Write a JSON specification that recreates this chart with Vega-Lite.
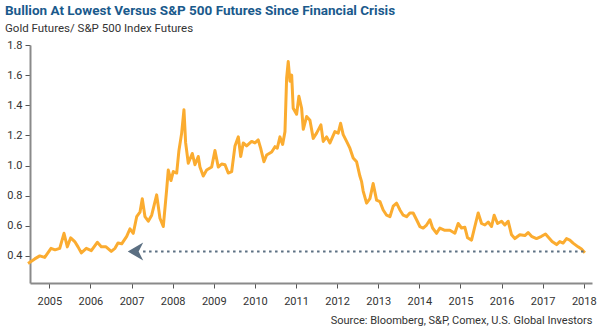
{
  "$schema": "https://vega.github.io/schema/vega-lite/v6.json",
  "width": 562,
  "height": 238,
  "autosize": {"type": "none"},
  "padding": {"left": 30, "top": 45, "right": 8, "bottom": 44},
  "background": "white",
  "title": {
    "text": "Bullion At Lowest Versus S&P 500 Futures Since Financial Crisis",
    "subtitle": "Gold Futures/ S&P 500 Index Futures",
    "anchor": "start",
    "frame": "group",
    "dx": -25,
    "offset": 5,
    "font": "Roboto",
    "fontSize": 13.5,
    "fontWeight": "bold",
    "color": "#1a5a8c",
    "subtitleFont": "Roboto",
    "subtitleFontSize": 11.5,
    "subtitleColor": "#333333",
    "subtitlePadding": 5
  },
  "config": {
    "view": {"stroke": null},
    "axis": {
      "labelFont": "Roboto",
      "labelFontSize": 11,
      "labelColor": "#333333",
      "domainColor": "#8a8a8a",
      "domainWidth": 2,
      "tickColor": "#555555",
      "tickSize": 5,
      "grid": false
    }
  },
  "layer": [
    {
      "data": {"values": [
        {"t": 2004.482, "ratio": 0.35}, {"t": 2004.645, "ratio": 0.38}, {"t": 2004.767, "ratio": 0.40}, {"t": 2004.888, "ratio": 0.39},
        {"t": 2005.041, "ratio": 0.45}, {"t": 2005.139, "ratio": 0.44}, {"t": 2005.253, "ratio": 0.45}, {"t": 2005.357, "ratio": 0.55},
        {"t": 2005.438, "ratio": 0.46}, {"t": 2005.520, "ratio": 0.52}, {"t": 2005.618, "ratio": 0.495}, {"t": 2005.698, "ratio": 0.46},
        {"t": 2005.778, "ratio": 0.42}, {"t": 2005.900, "ratio": 0.45}, {"t": 2006.021, "ratio": 0.435}, {"t": 2006.167, "ratio": 0.49},
        {"t": 2006.264, "ratio": 0.46}, {"t": 2006.379, "ratio": 0.46}, {"t": 2006.507, "ratio": 0.43}, {"t": 2006.597, "ratio": 0.45},
        {"t": 2006.670, "ratio": 0.485}, {"t": 2006.760, "ratio": 0.48}, {"t": 2006.882, "ratio": 0.53}, {"t": 2006.962, "ratio": 0.58},
        {"t": 2007.042, "ratio": 0.55}, {"t": 2007.125, "ratio": 0.66}, {"t": 2007.205, "ratio": 0.69}, {"t": 2007.261, "ratio": 0.78},
        {"t": 2007.327, "ratio": 0.66}, {"t": 2007.407, "ratio": 0.63}, {"t": 2007.490, "ratio": 0.67}, {"t": 2007.611, "ratio": 0.805},
        {"t": 2007.691, "ratio": 0.65}, {"t": 2007.772, "ratio": 0.595}, {"t": 2007.854, "ratio": 0.84}, {"t": 2007.893, "ratio": 0.97},
        {"t": 2007.959, "ratio": 0.90}, {"t": 2008.015, "ratio": 0.96}, {"t": 2008.098, "ratio": 0.95}, {"t": 2008.153, "ratio": 1.10},
        {"t": 2008.219, "ratio": 1.215}, {"t": 2008.275, "ratio": 1.37}, {"t": 2008.316, "ratio": 1.15}, {"t": 2008.380, "ratio": 1.015},
        {"t": 2008.477, "ratio": 1.08}, {"t": 2008.542, "ratio": 1.005}, {"t": 2008.623, "ratio": 1.06}, {"t": 2008.664, "ratio": 0.99},
        {"t": 2008.744, "ratio": 0.93}, {"t": 2008.827, "ratio": 0.97}, {"t": 2008.949, "ratio": 0.99}, {"t": 2009.029, "ratio": 1.10},
        {"t": 2009.109, "ratio": 0.99}, {"t": 2009.192, "ratio": 1.01}, {"t": 2009.273, "ratio": 1.005}, {"t": 2009.352, "ratio": 0.95},
        {"t": 2009.436, "ratio": 0.96}, {"t": 2009.516, "ratio": 1.13}, {"t": 2009.597, "ratio": 1.19}, {"t": 2009.655, "ratio": 1.06},
        {"t": 2009.717, "ratio": 1.15}, {"t": 2009.799, "ratio": 1.13}, {"t": 2009.921, "ratio": 1.16}, {"t": 2010.001, "ratio": 1.15},
        {"t": 2010.081, "ratio": 1.17}, {"t": 2010.140, "ratio": 1.115}, {"t": 2010.220, "ratio": 1.025}, {"t": 2010.286, "ratio": 1.07},
        {"t": 2010.409, "ratio": 1.09}, {"t": 2010.489, "ratio": 1.125}, {"t": 2010.545, "ratio": 1.115}, {"t": 2010.610, "ratio": 1.19},
        {"t": 2010.675, "ratio": 1.14}, {"t": 2010.732, "ratio": 1.225}, {"t": 2010.772, "ratio": 1.58}, {"t": 2010.811, "ratio": 1.69},
        {"t": 2010.853, "ratio": 1.56}, {"t": 2010.895, "ratio": 1.60}, {"t": 2010.932, "ratio": 1.38}, {"t": 2011.015, "ratio": 1.34},
        {"t": 2011.071, "ratio": 1.46}, {"t": 2011.137, "ratio": 1.38}, {"t": 2011.177, "ratio": 1.24}, {"t": 2011.258, "ratio": 1.325},
        {"t": 2011.339, "ratio": 1.30}, {"t": 2011.419, "ratio": 1.18}, {"t": 2011.501, "ratio": 1.215}, {"t": 2011.606, "ratio": 1.27},
        {"t": 2011.662, "ratio": 1.16}, {"t": 2011.745, "ratio": 1.19}, {"t": 2011.826, "ratio": 1.15}, {"t": 2011.946, "ratio": 1.225},
        {"t": 2012.027, "ratio": 1.215}, {"t": 2012.085, "ratio": 1.28}, {"t": 2012.148, "ratio": 1.205}, {"t": 2012.231, "ratio": 1.16},
        {"t": 2012.311, "ratio": 1.115}, {"t": 2012.391, "ratio": 1.05}, {"t": 2012.474, "ratio": 1.025}, {"t": 2012.554, "ratio": 0.93},
        {"t": 2012.594, "ratio": 0.895}, {"t": 2012.634, "ratio": 0.83}, {"t": 2012.717, "ratio": 0.75}, {"t": 2012.798, "ratio": 0.78},
        {"t": 2012.877, "ratio": 0.88}, {"t": 2012.960, "ratio": 0.77}, {"t": 2013.042, "ratio": 0.76}, {"t": 2013.121, "ratio": 0.705},
        {"t": 2013.204, "ratio": 0.67}, {"t": 2013.285, "ratio": 0.66}, {"t": 2013.365, "ratio": 0.73}, {"t": 2013.447, "ratio": 0.75},
        {"t": 2013.528, "ratio": 0.705}, {"t": 2013.608, "ratio": 0.67}, {"t": 2013.690, "ratio": 0.66}, {"t": 2013.770, "ratio": 0.685},
        {"t": 2013.850, "ratio": 0.685}, {"t": 2013.933, "ratio": 0.64}, {"t": 2014.013, "ratio": 0.595}, {"t": 2014.093, "ratio": 0.585},
        {"t": 2014.176, "ratio": 0.605}, {"t": 2014.257, "ratio": 0.64}, {"t": 2014.323, "ratio": 0.585}, {"t": 2014.420, "ratio": 0.55},
        {"t": 2014.499, "ratio": 0.585}, {"t": 2014.621, "ratio": 0.57}, {"t": 2014.743, "ratio": 0.57}, {"t": 2014.865, "ratio": 0.55},
        {"t": 2014.945, "ratio": 0.615}, {"t": 2015.027, "ratio": 0.585}, {"t": 2015.108, "ratio": 0.59}, {"t": 2015.173, "ratio": 0.52},
        {"t": 2015.270, "ratio": 0.505}, {"t": 2015.350, "ratio": 0.595}, {"t": 2015.432, "ratio": 0.685}, {"t": 2015.514, "ratio": 0.615},
        {"t": 2015.594, "ratio": 0.605}, {"t": 2015.675, "ratio": 0.625}, {"t": 2015.757, "ratio": 0.595}, {"t": 2015.821, "ratio": 0.67},
        {"t": 2015.902, "ratio": 0.615}, {"t": 2016.000, "ratio": 0.63}, {"t": 2016.079, "ratio": 0.605}, {"t": 2016.160, "ratio": 0.63},
        {"t": 2016.243, "ratio": 0.54}, {"t": 2016.323, "ratio": 0.515}, {"t": 2016.445, "ratio": 0.54}, {"t": 2016.567, "ratio": 0.535},
        {"t": 2016.646, "ratio": 0.555}, {"t": 2016.729, "ratio": 0.53}, {"t": 2016.850, "ratio": 0.515}, {"t": 2016.972, "ratio": 0.53},
        {"t": 2017.069, "ratio": 0.545}, {"t": 2017.133, "ratio": 0.525}, {"t": 2017.229, "ratio": 0.495}, {"t": 2017.338, "ratio": 0.475},
        {"t": 2017.417, "ratio": 0.495}, {"t": 2017.497, "ratio": 0.485}, {"t": 2017.580, "ratio": 0.515}, {"t": 2017.661, "ratio": 0.505},
        {"t": 2017.740, "ratio": 0.485}, {"t": 2017.862, "ratio": 0.46}, {"t": 2017.944, "ratio": 0.445}, {"t": 2018.026, "ratio": 0.42}
      ]},
      "mark": {"type": "line", "color": "#fbac30", "strokeWidth": 3, "strokeJoin": "round"},
      "encoding": {
        "x": {
          "field": "t",
          "type": "quantitative",
          "scale": {"domain": [2004.53, 2018.2], "nice": false, "zero": false},
          "axis": {
            "values": [2005, 2006, 2007, 2008, 2009, 2010, 2011, 2012, 2013, 2014, 2015, 2016, 2017, 2018],
            "tickCount": 14,
            "format": "d",
            "labelPadding": 7,
            "labelOverlap": false,
            "title": "Source: Bloomberg, S&P, Comex, U.S. Global Investors",
            "titleAnchor": "end",
            "titleFont": "Roboto",
            "titleFontWeight": "normal",
            "titleFontSize": 11,
            "titleColor": "#333333",
            "titlePadding": 8
          }
        },
        "y": {
          "field": "ratio",
          "type": "quantitative",
          "scale": {"domain": [0.22, 1.8], "nice": false, "zero": false},
          "axis": {
            "values": [0.4, 0.6, 0.8, 1.0, 1.2, 1.4, 1.6, 1.8],
            "tickCount": 8,
            "format": ".1f",
            "title": null,
            "labelPadding": 3,
            "labelOverlap": false,
            "labelBound": false,
            "labelFlush": false
          }
        }
      }
    },
    {
      "data": {"values": [{"from": 2007.28, "to": 2018.0, "level": 0.429}]},
      "mark": {"type": "rule", "color": "#5b6f82", "strokeWidth": 2, "strokeDash": [2.5, 3.5]},
      "encoding": {
        "x": {"field": "from", "type": "quantitative"},
        "x2": {"field": "to"},
        "y": {"field": "level", "type": "quantitative"}
      }
    },
    {
      "data": {"values": [{"tip": 2007.096, "level": 0.429}]},
      "mark": {"type": "point", "shape": "M -0.85 0 L 0.85 -1 L 0.35 0 L 0.85 1 Z", "filled": true, "color": "#5b6f82", "size": 330, "opacity": 1},
      "encoding": {
        "x": {"field": "tip", "type": "quantitative"},
        "y": {"field": "level", "type": "quantitative"}
      }
    }
  ]
}
